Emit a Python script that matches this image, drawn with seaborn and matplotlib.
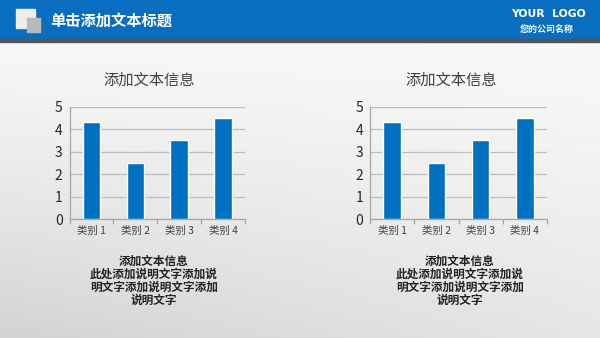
import numpy as np
import pandas as pd
import seaborn as sns
import matplotlib
matplotlib.use("Agg")
import matplotlib.pyplot as plt
from matplotlib.patches import Rectangle

# ---- data ----
categories = ["类别 1", "类别 2", "类别 3", "类别 4"]
values = [4.3, 2.5, 3.5, 4.5]
chart_title = "添加文本信息"
caption_lines = ["添加文本信息", "此处添加说明文字添加说", "明文字添加说明文字添加", "说明文字"]
page_title = "单击添加文本标题"
logo_text = "YOUR  LOGO"
company_text = "您的公司名称"
yticks = [0, 1, 2, 3, 4, 5]

sns.set_theme(style="white")
plt.rcParams["font.family"] = ["Noto Sans CJK SC", "DejaVu Sans"]

W, H = 600, 338
fig = plt.figure(figsize=(W / 100, H / 100), dpi=100)

# soft page background: light at the top, greyer towards the bottom left
bg = fig.add_axes([0, 0, 1, 1], zorder=-10)
yy, xx = np.mgrid[0:1:200j, 0:1:300j]
shade = 0.975 - 0.15 * yy ** 1.4 * (1 - 0.5 * xx)
bg.imshow(shade, cmap="gray", vmin=0, vmax=1, aspect="auto",
          extent=[0, 1, 0, 1], origin="upper", interpolation="bilinear")
bg.set_axis_off()

def px(x, y):
    return x / W, 1 - y / H

# header band
blue = "#0A6EC0"
fig.patches.append(Rectangle((0, 1 - 39 / H), 1, 39 / H, transform=fig.transFigure,
                             color=blue, zorder=1))
fig.patches.append(Rectangle((0, 1 - 42 / H), 1, 3 / H, transform=fig.transFigure,
                             color="#545454", zorder=1))
# small icon
fig.patches.append(Rectangle(px(16, 28), 19 / W, 19 / H, transform=fig.transFigure,
                             color="#EDEEF0", zorder=2))
fig.patches.append(Rectangle(px(27, 32), 13 / W, 14 / H, transform=fig.transFigure,
                             color="#B9B9BB", zorder=3))
fig.text(*px(50, 21), page_title, color="white", fontsize=11, fontweight="bold",
         ha="left", va="center", zorder=4)
fig.text(*px(549, 14), logo_text, color="white", fontsize=7.8, fontweight="bold",
         ha="center", va="center", family=["DejaVu Sans"], zorder=4)
fig.text(*px(547, 29), company_text, color="white", fontsize=6.5, fontweight="bold",
         ha="center", va="center", zorder=4)

df = pd.DataFrame({"category": categories, "value": values})

def draw_chart(x_left, x_right, title_cx, caption_cx):
    y_top, y_bot = 106.7, 219.3
    ax = fig.add_axes([x_left / W, 1 - y_bot / H, (x_right - x_left) / W, (y_bot - y_top) / H])
    ax.patch.set_alpha(0)
    sns.barplot(data=df, x="category", y="value", color="#0070C0", width=0.4,
                saturation=1, ax=ax, zorder=3)
    ax.set_xlim(-0.5, len(categories) - 0.5)
    ax.set_ylim(0, 5)
    ax.set_yticks(yticks)
    ax.yaxis.grid(True, color="#BDBDBD", linewidth=0.9, zorder=0)
    ax.set_axisbelow(True)
    ax.set_xlabel("")
    ax.set_ylabel("")
    for s in ["top", "right"]:
        ax.spines[s].set_visible(False)
    for s in ["left", "bottom"]:
        ax.spines[s].set_color("#A6A6A6")
        ax.spines[s].set_linewidth(0.9)
    ax.tick_params(axis="y", length=0, labelsize=10, labelcolor="#262626", pad=5)
    ax.set_xticks(range(len(categories)))
    ax.set_xticklabels(categories)
    ax.set_xticks(np.arange(-0.5, len(categories), 1), minor=True)
    ax.tick_params(axis="x", which="major", length=0, labelsize=7.5, labelcolor="#404040", pad=5)
    ax.tick_params(axis="x", which="minor", length=3.5, width=0.9, color="#A6A6A6",
                   direction="out", bottom=True)
    fig.text(*px(title_cx, 80.5), chart_title, fontsize=11, color="#404040",
             ha="center", va="center")
    for i, line in enumerate(caption_lines):
        fig.text(*px(caption_cx, 261 + 13.2 * i), line, fontsize=8.4, fontweight="bold",
                 color="#222222", ha="center", va="center")

draw_chart(69.5, 245, 149, 154)
draw_chart(370, 547, 451, 460)

fig.savefig("out.png", dpi=100)
